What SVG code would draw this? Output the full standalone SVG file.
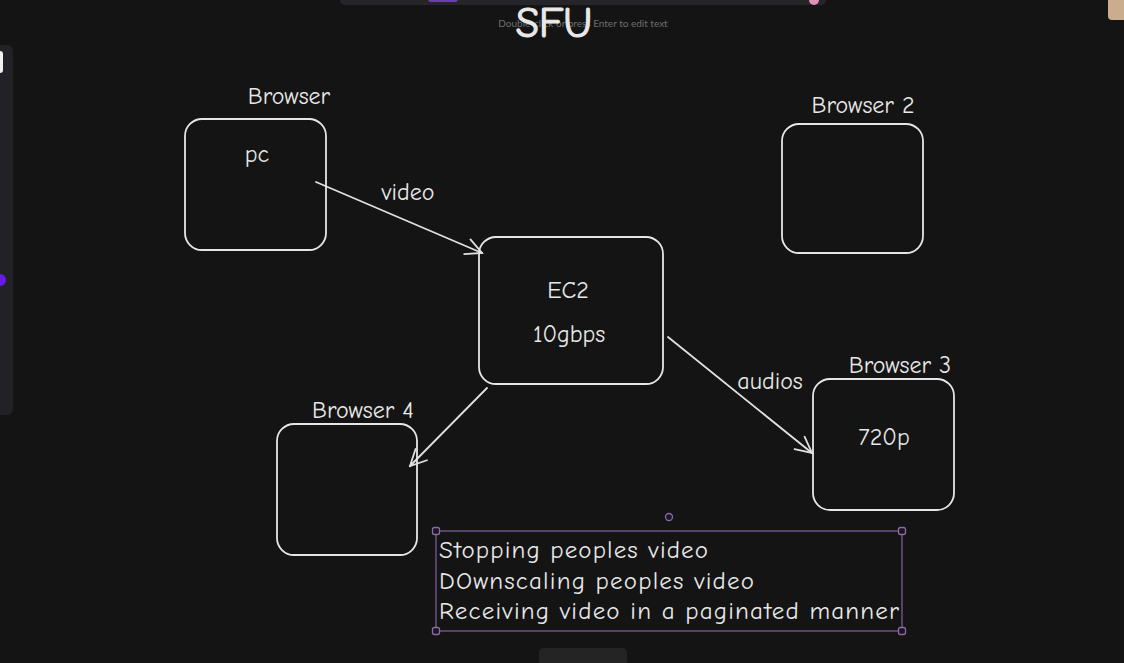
<svg xmlns="http://www.w3.org/2000/svg" width="1124" height="663" viewBox="0 0 1124 663">
<style>
.box{fill:none;stroke:#e6e6e6;stroke-width:1.8}
.t{font-family:"Comic Neue","Lato","Noto Sans",sans-serif;fill:#e8e8e8;text-anchor:middle}
.n{font-family:"Comic Neue","Lato","Noto Sans",sans-serif;fill:#e8e8e8;text-anchor:start;font-size:25px}
.lbl{font-size:24px}
.edge{fill:none;stroke:#e0e0e0;stroke-width:1.8;stroke-linecap:round}
.sel{fill:none;stroke:#7b5a97;stroke-width:1.3}
.h{fill:#1c1621;stroke:#8c6aa8;stroke-width:1.3}
</style>
<defs>
<marker id="ah" viewBox="0 0 20 20" refX="18" refY="10" markerWidth="20" markerHeight="20" markerUnits="userSpaceOnUse" orient="auto">
<path d="M2 2 L18 10 L2 18" fill="none" stroke="#e0e0e0" stroke-width="1.8" stroke-linecap="round"/>
</marker>
</defs>
<rect width="1124" height="663" fill="#141414"/>
<!-- UI chrome -->
<rect x="340" y="-10" width="486" height="15" rx="5" fill="#262529"/>
<rect x="428" y="-4" width="30" height="6" rx="3" fill="#6a3fb0"/>
<circle cx="814" cy="0" r="5" fill="#e48fb8"/>
<rect x="-10" y="45" width="23" height="370" rx="6" fill="#232128"/>
<rect x="-6" y="51" width="9" height="22" rx="3" fill="#f0f0f0"/>
<circle cx="0" cy="280" r="6" fill="#6a18e8"/>
<rect x="1108" y="-6" width="22" height="26" rx="4" fill="#c9ad8c"/>
<rect x="539" y="648" width="88" height="22" rx="5" fill="#242424"/>
<text x="583" y="27" font-family="Lato, sans-serif" font-size="10" fill="#6e6e6e" text-anchor="middle">Double-click or press Enter to edit text</text>
<g id="title"><text class="t" x="554" y="37" font-size="42" stroke="#e8e8e8" stroke-width="1.2">SFU</text></g>
<g id="connectors">
<path class="edge" d="M316 182 L482 253" marker-end="url(#ah)"/>
<path class="edge" d="M668 337 L812 453" marker-end="url(#ah)"/>
<path class="edge" d="M487 388 L410 466" marker-end="url(#ah)"/>
<text class="t lbl" x="408" y="200">video</text>
<text class="t lbl" x="770" y="389">audios</text>
</g>
<g id="browser1">
<rect class="box" x="185" y="119" width="141" height="131" rx="17"/>
<text class="t lbl" x="289" y="104">Browser</text>
<text class="t lbl" x="257" y="162">pc</text>
</g>
<g id="browser2">
<rect class="box" x="782" y="124" width="141" height="129" rx="17"/>
<text class="t lbl" x="863" y="113">Browser 2</text>
</g>
<g id="ec2">
<rect class="box" x="479" y="237" width="184" height="147" rx="17"/>
<text class="t lbl" x="568" y="298">EC2</text>
<text class="t lbl" x="569" y="342">10gbps</text>
</g>
<g id="browser3">
<rect class="box" x="813" y="379" width="141" height="131" rx="17"/>
<text class="t lbl" x="900" y="373">Browser 3</text>
<text class="t lbl" x="884" y="445">720p</text>
</g>
<g id="browser4">
<rect class="box" x="277" y="424" width="140" height="131" rx="17"/>
<text class="t lbl" x="363" y="418">Browser 4</text>
</g>
<g id="notes">
<rect class="sel" x="436" y="531" width="466" height="100"/>
<circle class="h" cx="669" cy="517" r="3.5"/>
<rect class="h" x="432.5" y="527.5" width="7" height="7" rx="2"/>
<rect class="h" x="898.5" y="527.5" width="7" height="7" rx="2"/>
<rect class="h" x="432.5" y="627.5" width="7" height="7" rx="2"/>
<rect class="h" x="898.5" y="627.5" width="7" height="7" rx="2"/>
<text class="n" x="439" y="558" textLength="269">Stopping peoples video</text>
<text class="n" x="439" y="589" textLength="315">DOwnscaling peoples video</text>
<text class="n" x="439" y="619" textLength="460">Receiving video in a paginated manner</text>
</g>
</svg>
